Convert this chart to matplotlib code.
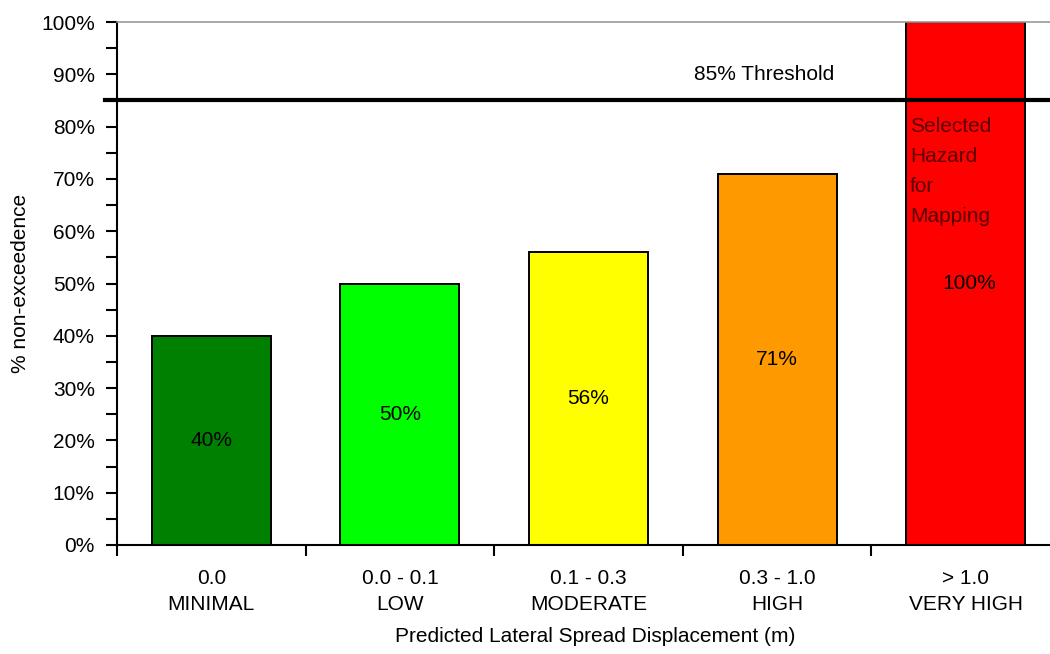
import matplotlib
matplotlib.use("Agg")
import matplotlib.pyplot as plt
from matplotlib.ticker import MultipleLocator, FixedLocator, PercentFormatter

plt.rcParams['font.family'] = ['Liberation Sans', 'DejaVu Sans']

ranges = ["0.0", "0.0 - 0.1", "0.1 - 0.3", "0.3 - 1.0", "> 1.0"]
hazard = ["MINIMAL", "LOW", "MODERATE", "HIGH", "VERY HIGH"]
non_exceedence = [40, 50, 56, 71, 100]
colors = ["#008000", "#00FF00", "#FFFF00", "#FF9900", "#FF0000"]
threshold = 85

FS = 15

fig = plt.figure(figsize=(10.5, 6.54), dpi=100)
W, H = 1050, 654
left, right, top, bottom = 117, 1060, 22, 545
ax = fig.add_axes([left / W, (H - bottom) / H, (right - left) / W, (bottom - top) / H])

x = list(range(len(non_exceedence)))
ax.bar(x, non_exceedence, width=0.63, color=colors, edgecolor="black", linewidth=1.4, zorder=2)

ax.set_xlim(-0.5, len(x) - 0.5)
ax.set_ylim(0, 100)

# value labels at mid-height of each bar
for xi, v in zip(x, non_exceedence):
    ax.text(xi + (0.02 if v == 100 else 0), v / 2, f"{v}%", ha="center", va="center",
            fontsize=FS, color="black", zorder=3)

# threshold line
ax.axhline(threshold, xmin=-0.013, xmax=1, color="black", linewidth=3, clip_on=False, zorder=4)
ax.text(2.93, 90, f"{threshold}% Threshold", ha="center", va="center", fontsize=FS, color="black")

ax.text(3.705, 81.8, "Selected\nHazard\nfor\nMapping", ha="left", va="top", fontsize=FS,
        color="#5a0000", linespacing=1.72, zorder=3)

# spines
ax.spines["top"].set_color("#999999")
ax.spines["top"].set_linewidth(1.2)
ax.spines["right"].set_visible(False)
ax.spines["left"].set_linewidth(1.5)
ax.spines["bottom"].set_linewidth(1.5)

# y axis
ax.yaxis.set_major_locator(MultipleLocator(10))
ax.yaxis.set_minor_locator(MultipleLocator(5))
ax.yaxis.set_major_formatter(PercentFormatter(decimals=0))
ax.tick_params(axis="y", which="both", direction="out", length=8, width=1.5, pad=8, labelsize=FS)
ax.set_ylabel("% non-exceedence", fontsize=FS, labelpad=8)

# x axis: ticks at category boundaries, labels at category centres
ax.xaxis.set_major_locator(FixedLocator([i - 0.5 for i in range(len(x))]))
ax.xaxis.set_major_formatter(plt.NullFormatter())
ax.xaxis.set_minor_locator(FixedLocator(x))
ax.set_xticklabels([f"{r}\n{h}" for r, h in zip(ranges, hazard)], minor=True)
ax.tick_params(axis="x", which="major", direction="out", length=8, width=1.5)
ax.tick_params(axis="x", which="minor", length=0, pad=17, labelsize=FS)
for lbl in ax.get_xticklabels(minor=True):
    lbl.set_linespacing(1.5)
ax.set_xlabel("Predicted Lateral Spread Displacement (m)", fontsize=FS)
ax.xaxis.set_label_coords((595 - left) / (right - left), (bottom - 637) / (bottom - top))
ax.xaxis.label.set_va("center")

fig.savefig("out.png", dpi=100)
